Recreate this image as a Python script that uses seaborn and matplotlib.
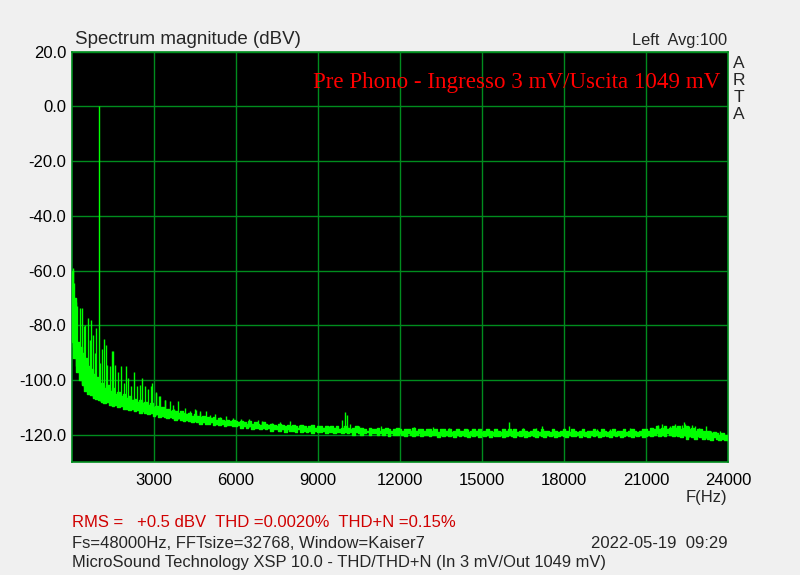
# ARTA style spectrum plot - Pre Phono THD measurement

import numpy as np
import matplotlib
matplotlib.use("Agg")
import matplotlib.pyplot as plt
import seaborn as sns

# Data
# noise band, lower and upper edge, every 100 Hz from 0 to 24000 Hz (dBV)
floor_hz = np.arange(0, 24001, 100)
floor_lo = [
    -86,
    -92, -97, -100, -102, -104, -105, -105.5, -106.5, -107, -107.5,
    -108, -108.5, -108, -109, -109.5, -109, -110, -109.5, -110.5, -110.5,
    -111, -110.5, -111.5, -111, -112, -111.5, -112, -112.5, -112, -113,
    -112.5, -113.5, -113, -113.5, -114, -113.5, -114, -114.5, -114, -114.5,
    -115, -114.5, -115, -115.5, -115, -115.5, -116, -115.5, -116, -116,
    -115.5, -116.5, -116, -116.5, -116, -117, -116.5, -116.5, -117, -117,
    -116.5, -117.5, -117, -117.5, -117, -118, -117.5, -117.5, -118, -117.5,
    -118, -117.5, -118.5, -118, -118, -118.5, -118, -119, -118, -118.5,
    -118.5, -119, -118, -119, -118.5, -119, -118.5, -119.5, -118.5, -119,
    -119, -118.5, -119.5, -119, -119, -119.5, -119, -119, -119.5, -119,
    -119.5, -119, -120, -119, -119.5, -120, -119.5, -119, -120, -119.5,
    -119.5, -120, -119.5, -120, -119.5, -120.5, -119.5, -120, -120, -119.5,
    -120, -120.5, -119.5, -120, -120.5, -120, -119.5, -120.5, -120, -120,
    -120.5, -120, -120, -121, -120, -120.5, -120, -120.5, -120, -121,
    -120, -120.5, -120, -120.5, -121, -120, -120.5, -120, -121, -120,
    -120.5, -120, -121, -120, -120.5, -120.5, -120, -121, -120.5, -120,
    -120.5, -121, -120, -120.5, -120, -121, -120.5, -120, -120.5, -121,
    -120, -120.5, -121, -120, -120.5, -120, -121, -120.5, -120, -120.5,
    -121, -120, -120.5, -120.5, -120, -121, -120, -120.5, -121, -120,
    -120.5, -120, -121, -120.5, -120, -120.5, -121, -120, -120.5, -120,
    -121, -120.5, -120, -120.5, -121, -120, -120.5, -120, -121, -120.5,
    -120, -120.5, -120, -119.5, -120.5, -120, -120.5, -119.5, -120, -120.5,
    -120, -120.5, -121, -120, -121.5, -120.5, -121, -121.5, -120.5, -121,
    -121.5, -121, -121.5, -122, -121, -121.5, -122, -121.5, -122, -122,
]
floor_hi = [
    -60,
    -70, -86, -88, -90, -92, -95, -96, -98, -99, -101,
    -101, -103, -102, -104, -103, -105, -104.5, -106, -105, -106.5,
    -106, -107.5, -107, -108, -107.5, -108.5, -108, -109, -108.5, -110,
    -109.5, -110.5, -110, -111, -110.5, -111.5, -111, -111.5, -112, -111.5,
    -112, -112.5, -112, -113, -112.5, -113, -113.5, -113, -114, -113.5,
    -114, -113.5, -114.5, -114, -114.5, -115, -114.5, -115, -114.5, -115,
    -115.5, -115, -115.5, -116, -115, -116, -115.5, -116, -116.5, -115.5,
    -116, -116.5, -116, -116.5, -117, -116, -116.5, -117, -116.5, -117,
    -116.5, -117, -117.5, -116.5, -117, -117.5, -117, -116.5, -117.5, -117,
    -117, -117.5, -117, -118, -117, -117.5, -117, -118, -117.5, -117,
    -117.5, -118, -117.5, -117, -118, -117.5, -118, -118.5, -117.5, -118,
    -118, -117.5, -118.5, -118, -117.5, -118, -118.5, -118, -117.5, -118,
    -118.5, -118, -118, -118.5, -117.5, -118.5, -118, -118, -118.5, -118,
    -118, -118.5, -118, -119, -118, -118, -118.5, -118, -119, -118.5,
    -118, -118.5, -118.5, -118, -119, -118.5, -118, -118.5, -118, -119,
    -118.5, -118, -118.5, -119, -118, -118.5, -119, -118, -118.5, -118,
    -118.5, -118, -119, -118.5, -118, -118.5, -119, -118.5, -118, -118.5,
    -119, -118, -118.5, -118.5, -119, -118, -118.5, -119, -118.5, -118,
    -118.5, -119, -118, -118.5, -119, -118.5, -118, -119, -118.5, -118.5,
    -118, -118.5, -119, -118, -118.5, -119, -118.5, -118, -119, -118.5,
    -118.5, -118, -119, -118.5, -118, -118.5, -119, -118.5, -118, -118,
    -118.5, -117.5, -118, -117, -118, -117.5, -117, -118, -117.5, -117,
    -117.5, -117, -118, -117.5, -117, -118, -117.5, -118.5, -118, -118,
    -118.5, -119, -118.5, -119.5, -119, -119.5, -120, -119.5, -120, -120,
]

# discrete lines (fundamental 1 kHz, hum and harmonics, spurs)
spike_hz = [30, 70, 160, 200, 280, 370, 430, 480, 590, 650,
            710, 770, 830, 880, 1000, 1040, 1100, 1170, 1260, 1290,
            1380, 1480, 1500, 1590, 1680, 1780, 1890, 1960, 2060, 2150,
            2270, 2380, 2500, 2570, 2670, 2780, 2880, 2910, 3060, 3090,
            3180, 3210, 3390, 3420, 3570, 3680, 3730, 3880, 4000, 4150,
            4310, 4490, 4520, 4670, 4700, 4890, 5060, 5220, 5400, 5650,
            5900, 6200, 6480, 6800, 6960, 7300, 7600, 7990, 8300, 8780,
            9400, 9880, 9990, 10060, 10170, 10500, 11300, 12500, 13210, 13800,
            14500, 15220, 15990, 16500, 16990, 17200, 18180, 19190, 19700, 20400,
            21440, 21600, 21870, 22050, 22210, 22320, 22390, 22440, 22570, 22670,
            22780, 22940, 23180, 23390, 23700]
spike_db = [-59, -64.6, -71.6, -72.8, -73.7, -73.7, -80.4, -80, -77.3, -85.4,
            -78, -83.6, -90.3, -81, 0.0, -93.8, -88.7, -85, -87.4, -94.4,
            -94.8, -89.5, -89.5, -94.4, -97.2, -94.8, -101.1, -94.9, -99.3, -102.1,
            -97.2, -102.3, -101.7, -99.3, -102.3, -103.3, -102.3, -101.1, -104.5, -104.8,
            -105.8, -106, -107.2, -107.2, -107.8, -109, -110.6, -107.8, -112, -110.2,
            -111.5, -110.8, -110.9, -111.4, -112, -111.5, -112.7, -112.6, -113.5, -113,
            -114, -114.2, -114.2, -114.5, -115.1, -115.8, -115.5, -115.1, -116.5, -116.3,
            -116.7, -114.8, -111.6, -112.7, -116, -116.8, -117, -117.3, -117.3, -117.5,
            -117.8, -118, -115.3, -117.5, -117.5, -117, -116.7, -118, -117.8, -117.7,
            -116.4, -116, -117, -116.1, -117, -116.5, -115.5, -116, -117, -116.5,
            -117, -117.6, -117, -118.6, -118.8]

x_ticks = [3000, 6000, 9000, 12000, 15000, 18000, 21000, 24000]
y_ticks = [20, 0, -20, -40, -60, -80, -100, -120]

bg = "#f0f0f0"
grid_green = "#008c1e"
trace_green = "#00ff00"

sns.set_style("dark", {"axes.facecolor": "black", "figure.facecolor": bg,
                       "axes.edgecolor": grid_green, "grid.color": grid_green})
plt.rcParams["font.family"] = ["Liberation Sans", "DejaVu Sans"]

fig = plt.figure(figsize=(8, 5.75), dpi=100)
ax = fig.add_axes([0.09, 0.1965, 0.82, 0.7135])

# noise band
ax.fill_between(floor_hz, floor_lo, floor_hi, step="mid", color=trace_green,
                linewidth=0, zorder=3)
sns.lineplot(x=floor_hz, y=floor_lo, ax=ax, color=trace_green, linewidth=1.0,
             sort=False, estimator=None, drawstyle="steps-mid", zorder=3)
sns.lineplot(x=floor_hz, y=floor_hi, ax=ax, color=trace_green, linewidth=1.0,
             sort=False, estimator=None, drawstyle="steps-mid", zorder=3)

# spikes from the noise band up to their level
base = np.interp(spike_hz, floor_hz, floor_lo)
ax.vlines(spike_hz, base, spike_db, color=trace_green, linewidth=1.0, zorder=3)

ax.set_xlim(0, 24000)
ax.set_ylim(-130, 20)
ax.set_xticks(x_ticks)
ax.set_xticklabels([str(t) for t in x_ticks])
ax.set_yticks(y_ticks)
ax.set_yticklabels([f"{t:.1f}" for t in y_ticks])
ax.grid(True, color=grid_green, linewidth=1.0)
ax.set_axisbelow(True)
ax.tick_params(length=0, labelsize=12, colors="black")
ax.tick_params(axis="x", pad=8)
ax.tick_params(axis="y", pad=4)
for s in ax.spines.values():
    s.set_visible(True)
    s.set_color(grid_green)
    s.set_linewidth(1.2)
ax.set_xlabel("")
ax.set_ylabel("")

# texts
fig.text(0.094, 0.932, "Spectrum magnitude (dBV)", fontsize=13.5, va="center", ha="left")
fig.text(0.909, 0.930, "Left  Avg:100", fontsize=11.8, va="center", ha="right")
for i, ch in enumerate("ARTA"):
    fig.text(0.924, 0.890 - i * 0.0298, ch, fontsize=12.5, va="center", ha="center")
ax.text(0.988, 0.925, "Pre Phono - Ingresso 3 mV/Uscita 1049 mV", transform=ax.transAxes,
        fontsize=16.6, color="red", ha="right", va="center", family=["Liberation Serif"])
fig.text(0.909, 0.134, "F(Hz)", fontsize=12, va="center", ha="right")

fig.text(0.09, 0.0905, "RMS =   +0.5 dBV  THD =0.0020%  THD+N =0.15%", fontsize=12,
         color="#d00000", va="center", ha="left")
fig.text(0.09, 0.0555, "Fs=48000Hz, FFTsize=32768, Window=Kaiser7", fontsize=12,
         va="center", ha="left")
fig.text(0.909, 0.0555, "2022-05-19  09:29", fontsize=12, va="center", ha="right")
fig.text(0.09, 0.021, "MicroSound Technology XSP 10.0 - THD/THD+N (In 3 mV/Out 1049 mV)",
         fontsize=11.9, va="center", ha="left")

fig.savefig("out.png", dpi=100, facecolor=bg)
